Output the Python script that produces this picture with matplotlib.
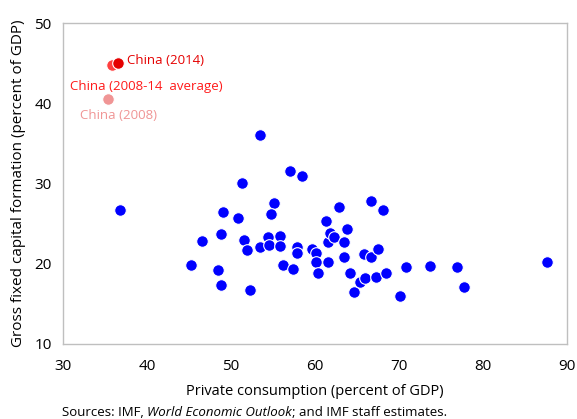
import matplotlib
matplotlib.use("Agg")
import matplotlib.pyplot as plt

plt.rcParams['font.family'] = ['Open Sans', 'DejaVu Sans']

# Blue: other economies (private consumption %, GFCF %)
cons = [36.8, 53.4, 57.0, 58.4, 51.3, 55.1, 54.8, 49.1, 50.8, 48.8, 46.5, 51.5, 51.9,
        45.2, 48.4, 48.8, 52.3, 53.4, 54.4, 54.5, 55.8, 55.8, 56.2, 57.4, 57.8, 57.8,
        59.6, 60.1, 60.1, 60.4, 61.5, 61.6, 61.8, 62.2, 62.8, 61.3, 63.4, 63.5, 63.8,
        64.1, 64.6, 66.6, 68.1, 65.8, 66.6, 67.5, 65.4, 65.9, 67.2, 68.5, 70.1, 70.8,
        73.7, 76.9, 77.7, 87.6]
gfcf = [26.7, 36.0, 31.5, 30.9, 30.1, 27.6, 26.2, 26.4, 25.7, 23.7, 22.8, 22.9, 21.7,
        19.8, 19.2, 17.3, 16.7, 22.1, 23.3, 22.4, 23.4, 22.2, 19.8, 19.3, 22.1, 21.3,
        21.8, 21.3, 20.2, 18.9, 20.2, 22.7, 23.8, 23.3, 27.1, 25.3, 22.7, 20.9, 24.3,
        18.9, 16.5, 27.8, 26.7, 21.2, 20.8, 21.8, 17.7, 18.2, 18.3, 18.9, 16.0, 19.6,
        19.7, 19.6, 17.1, 20.2]

china_labels = ["China (2014)", "China (2008-14  average)", "China (2008)"]
china_cons = [36.6, 35.8, 35.4]
china_gfcf = [45.0, 44.8, 40.5]
china_colors = ["#e50000", "#ff4040", "#f09595"]

fig = plt.figure(figsize=(5.77, 4.19), dpi=100)
ax = fig.add_axes([0.109, 0.179, 0.874, 0.766])

ax.scatter(cons, gfcf, s=70, color="#0000ff", edgecolors="white", linewidths=0.8, zorder=3)
for i in [2, 1, 0]:
    ax.scatter([china_cons[i]], [china_gfcf[i]], s=70, color=china_colors[i],
               edgecolors="white", linewidths=0.8, zorder=4)

ax.text(china_cons[0] + 1.0, china_gfcf[0] + 0.3, china_labels[0], color="#e50000",
        fontsize=9.5, va="center", ha="left")
ax.text(china_cons[1] - 5.0, china_gfcf[1] - 2.7, china_labels[1], color="#ff1a1a",
        fontsize=9.5, va="center", ha="left")
ax.text(china_cons[2] - 3.4, china_gfcf[2] - 2.0, china_labels[2], color="#f09595",
        fontsize=9.5, va="center", ha="left")

ax.set_xlim(30, 90)
ax.set_ylim(10, 50)
ax.set_xticks(range(30, 91, 10))
ax.set_yticks(range(10, 51, 10))
ax.tick_params(length=0, labelsize=11, pad=11)
ax.tick_params(axis='y', pad=8)
for sp in ax.spines.values():
    sp.set_color("#bfbfbf")
    sp.set_linewidth(1.0)

ax.set_xlabel("Private consumption (percent of GDP)", fontsize=10.5, labelpad=7)
ax.set_ylabel("Gross fixed capital formation (percent of GDP)", fontsize=11, labelpad=6)

# Source note with italic title
fig.canvas.draw()
r = fig.canvas.get_renderer()
x0 = 62 / 577
y0 = 1 - 412 / 419
parts = [("Sources: IMF, ", "normal"), ("World Economic Outlook", "italic"),
         ("; and IMF staff estimates.", "normal")]
x = x0
for txt, style in parts:
    t = fig.text(x, y0, txt, fontsize=9.5, style=style, va="center", ha="left")
    bb = t.get_window_extent(renderer=r)
    x += bb.width / fig.bbox.width

fig.savefig("out.png", dpi=100)
